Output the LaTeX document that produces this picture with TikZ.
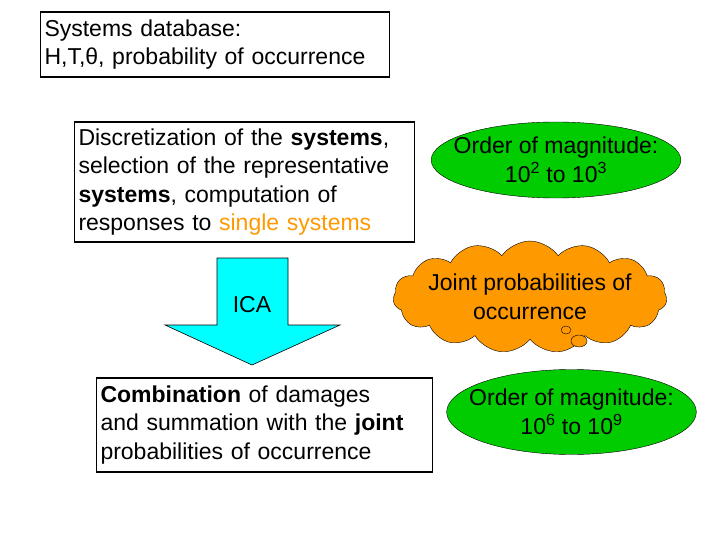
\documentclass[tikz,border=0pt]{standalone}
\usepackage{fontspec}
\setmainfont{Liberation Sans}
\usetikzlibrary{shapes.geometric, shapes.symbols, shapes.arrows}
\definecolor{grass}{RGB}{0,204,0}
\definecolor{sun}{RGB}{255,153,0}
\definecolor{sky}{RGB}{0,255,255}
\begin{document}
\begin{tikzpicture}[x=1pt, y=-1pt,
  every node/.style={font=\fontsize{23}{28.5}\selectfont, inner sep=4pt},
  textbox/.style={draw=black, line width=1.5pt, fill=white, align=left},
  magnitude/.style={ellipse, draw=black, fill=grass, align=center, inner sep=-14pt}]
  \useasboundingbox (0,0) rectangle (720,540);

  \node[textbox, minimum width=348pt, minimum height=65pt, text width=341pt] (db) at (215,44.5)
    {Systems database:\\H,T,θ, probability of occurrence};
  \node[textbox, minimum width=339pt, minimum height=120pt, text width=332pt] (disc) at (244.5,182)
    {Discretization of the \textbf{systems},\\selection of the representative\\\textbf{systems}, computation of\\responses to \textcolor{sun}{single systems}};
  \node[magnitude, minimum width=248pt, minimum height=76pt] (low) at (556,160)
    {Order of magnitude:\\10\textsuperscript{2} to 10\textsuperscript{3}};

  % block arrow
  \fill[sky, draw=black, line width=0.6pt] (217,258) -- (288,258) -- (288,325) -- (340,325)
    -- (252,365) -- (165,325) -- (217,325) -- cycle;
  \node (ica) at (252,305) {ICA};

  \node[cloud, cloud puffs=15, cloud puff arc=110, aspect=3.2, draw=black, fill=sun, minimum width=268pt,
    minimum height=84pt, align=center, inner sep=-6pt] (joint) at (530,297)
    {Joint probabilities of\\occurrence};
  \draw[fill=sun] (566,330) ellipse (5pt and 4pt);
  \draw[fill=sun] (579,341) ellipse (8pt and 6pt);

  \node[textbox, minimum width=335pt, minimum height=94pt, text width=328pt] (comb) at (264.5,425)
    {\textbf{Combination} of damages\\and summation with the \textbf{joint}\\probabilities of occurrence};
  \node[magnitude, minimum width=233pt, minimum height=85pt] (high) at (571.5,412)
    {Order of magnitude:\\10\textsuperscript{6} to 10\textsuperscript{9}};
\end{tikzpicture}
\end{document}
